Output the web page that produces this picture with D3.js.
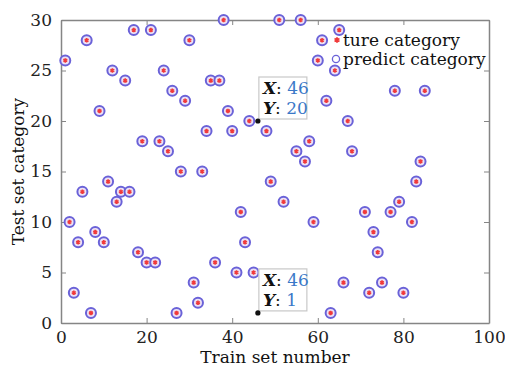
<html>
  <head>
    <meta charset="utf-8">
    <title>Train / test category</title>
    <style>
      body { margin: 0; background: #fff; }
      text { font-family: "DejaVu Serif", serif; }
    </style>
  </head>

  <body>
  	<div id="container"></div>
  </body>

  <script src="https://cdn.jsdelivr.net/npm/d3@7"></script>

  <script>
  // train set number (x) and category (y)
  var trainNumber = [1, 6, 9, 12, 15, 17, 19, 21, 23, 24, 25, 26, 28, 29, 30, 33, 34, 35, 37, 38, 39, 40, 44,
  	11, 51, 56, 65, 61, 60, 64, 62, 78, 85, 48, 67, 58, 55, 57, 68, 84, 49, 83,
  	2, 3, 4, 5, 7, 8, 10, 13, 14, 16, 18, 20, 22, 27, 31, 32, 36, 41, 42, 43, 45,
  	52, 59, 66, 63, 71, 72, 73, 74, 75, 77, 79, 80, 82];
  var trueCategory = [26, 28, 21, 25, 24, 29, 18, 29, 18, 25, 17, 23, 15, 22, 28, 15, 19, 24, 24, 30, 21, 19, 20,
  	14, 30, 30, 29, 28, 26, 25, 22, 23, 23, 19, 20, 18, 17, 16, 17, 16, 14, 14,
  	10, 3, 8, 13, 1, 9, 8, 12, 13, 13, 7, 6, 6, 1, 4, 2, 6, 5, 11, 8, 5,
  	12, 10, 4, 1, 11, 3, 9, 7, 4, 11, 12, 3, 10];
  var predictCategory = trueCategory.slice();

  // the two data tips
  var tipX = [46, 46];
  var tipY = [20, 1];

  var xTicks = [0, 20, 40, 60, 80, 100];
  var yTicks = [0, 5, 10, 15, 20, 25, 30];

  function main() {
  	var width = 505, height = 367;
  	var margin = {left: 61, right: 16, top: 20, bottom: 44};

  	var svg = d3.select("#container").append("svg")
  		.attr("width", width)
  		.attr("height", height);

  	var x = d3.scaleLinear().domain([0, 100]).range([margin.left, width - margin.right]);
  	var y = d3.scaleLinear().domain([0, 30]).range([height - margin.bottom, margin.top]);

  	var frame = "#858585";

  	// axes, ticks inward and mirrored like matlab
  	svg.append("g")
  		.attr("transform", "translate(0," + y(0) + ")")
  		.call(d3.axisBottom(x).tickValues(xTicks).tickSizeInner(-5).tickSizeOuter(0).tickPadding(8))
  		.call(function(g) {
  			g.select(".domain").attr("stroke", frame).attr("stroke-width", 1.5);
  			g.selectAll(".tick line").attr("stroke", frame);
  			g.selectAll(".tick text").attr("font-size", 17).attr("fill", "#222").attr("font-family", "DejaVu Serif");
  		});
  	svg.append("g")
  		.attr("transform", "translate(" + x(0) + ",0)")
  		.call(d3.axisLeft(y).tickValues(yTicks).tickSizeInner(-5).tickSizeOuter(0).tickPadding(9))
  		.call(function(g) {
  			g.select(".domain").attr("stroke", frame).attr("stroke-width", 1.5);
  			g.selectAll(".tick line").attr("stroke", frame);
  			g.selectAll(".tick text").attr("font-size", 17).attr("fill", "#222").attr("font-family", "DejaVu Serif");
  		});
  	svg.append("g")
  		.attr("transform", "translate(0," + y(30) + ")")
  		.call(d3.axisTop(x).tickValues(xTicks).tickSizeInner(-5).tickSizeOuter(0).tickFormat(""))
  		.call(function(g) {
  			g.select(".domain").attr("stroke", frame).attr("stroke-width", 1.5);
  			g.selectAll(".tick line").attr("stroke", frame);
  		});
  	svg.append("g")
  		.attr("transform", "translate(" + x(100) + ",0)")
  		.call(d3.axisRight(y).tickValues(yTicks).tickSizeInner(-5).tickSizeOuter(0).tickFormat(""))
  		.call(function(g) {
  			g.select(".domain").attr("stroke", frame).attr("stroke-width", 1.5);
  			g.selectAll(".tick line").attr("stroke", frame);
  		});

  	// axis titles
  	svg.append("text")
  		.attr("x", (x(0) + x(100)) / 2)
  		.attr("y", 362.5)
  		.attr("text-anchor", "middle")
  		.attr("font-size", 17)
  		.attr("fill", "#111")
  		.text("Train set number");
  	svg.append("text")
  		.attr("transform", "translate(24," + (y(15)) + ") rotate(-90)")
  		.attr("text-anchor", "middle")
  		.attr("font-size", 17)
  		.attr("fill", "#111")
  		.text("Test set category");

  	var idx = d3.range(trainNumber.length);

  	// predict category: blue circles
  	svg.append("g").selectAll("circle")
  		.data(idx)
  		.enter().append("circle")
  		.attr("cx", function(i) { return x(trainNumber[i]); })
  		.attr("cy", function(i) { return y(predictCategory[i]); })
  		.attr("r", 5)
  		.attr("fill", "#ece2f6")
  		.attr("stroke", "#6a62d8")
  		.attr("stroke-width", 2);

  	// true category: red asterisks
  	var star = d3.symbol().type(d3.symbolAsterisk).size(14);
  	svg.append("g").selectAll("path")
  		.data(idx)
  		.enter().append("path")
  		.attr("transform", function(i) { return "translate(" + x(trainNumber[i]) + "," + y(trueCategory[i]) + ")"; })
  		.attr("d", star)
  		.attr("stroke", "#f03a3a")
  		.attr("stroke-width", 1.6)
  		.attr("fill", "none");

  	// legend
  	var lg = svg.append("g");
  	lg.append("path")
  		.attr("transform", "translate(337,40)")
  		.attr("d", d3.symbol().type(d3.symbolAsterisk).size(22))
  		.attr("stroke", "#f03a3a")
  		.attr("stroke-width", 1.8)
  		.attr("fill", "none");
  	lg.append("circle")
  		.attr("cx", 336).attr("cy", 59).attr("r", 3.6)
  		.attr("fill", "#fff")
  		.attr("stroke", "#6a62d8")
  		.attr("stroke-width", 1.3);
  	lg.append("text").attr("x", 343).attr("y", 46).attr("font-size", 17).attr("fill", "#111").text("ture category");
  	lg.append("text").attr("x", 343).attr("y", 65).attr("font-size", 17).attr("fill", "#111").text("predict category");

  	// data tips
  	var tips = svg.append("g").selectAll("g")
  		.data(d3.range(tipX.length))
  		.enter().append("g")
  		.attr("transform", function(i) { return "translate(" + x(tipX[i]) + "," + y(tipY[i]) + ")"; });
  	tips.append("rect")
  		.attr("x", 1).attr("y", -44)
  		.attr("width", 48).attr("height", 42)
  		.attr("fill", "#fff")
  		.attr("stroke", "#c8c8c8")
  		.attr("stroke-width", 1.2);
  	tips.append("circle")
  		.attr("r", 2.6)
  		.attr("fill", "#111");
  	var t1 = tips.append("text").attr("x", 5).attr("y", -27).attr("font-size", 17);
  	t1.append("tspan").attr("font-style", "italic").attr("font-weight", "bold").attr("fill", "#111").text("X");
  	t1.append("tspan").attr("fill", "#111").text(": ");
  	t1.append("tspan").attr("fill", "#3a78c8").text(function(i) { return tipX[i]; });
  	var t2 = tips.append("text").attr("x", 5).attr("y", -7).attr("font-size", 17);
  	t2.append("tspan").attr("font-style", "italic").attr("font-weight", "bold").attr("fill", "#111").text("Y");
  	t2.append("tspan").attr("fill", "#111").text(": ");
  	t2.append("tspan").attr("fill", "#3a78c8").text(function(i) { return tipY[i]; });
  }

  window.onload = main;
  </script>
</html>
